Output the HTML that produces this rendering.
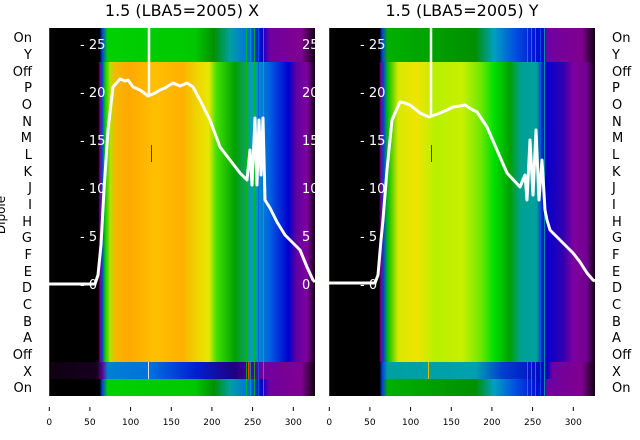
<!DOCTYPE html>
<html><head><meta charset="utf-8"><style>
body{margin:0;background:#fff;}
svg{display:block;font-family:"DejaVu Sans","Liberation Sans",sans-serif;}
</style></head><body>
<svg width="640" height="440" viewBox="0 0 640 440" xmlns="http://www.w3.org/2000/svg">
<defs>
<linearGradient id="Lmain" gradientUnits="userSpaceOnUse" x1="49" x2="315" y1="0" y2="0">
<stop offset="0" stop-color="#000"/><stop offset="0.185" stop-color="#000"/>
<stop offset="0.192" stop-color="#7a0090"/><stop offset="0.2" stop-color="#0040e0"/>
<stop offset="0.21" stop-color="#00c800"/><stop offset="0.23" stop-color="#b8e000"/>
<stop offset="0.25" stop-color="#f5b800"/><stop offset="0.3" stop-color="#ffa800"/>
<stop offset="0.4" stop-color="#ffc000"/><stop offset="0.5" stop-color="#ffb000"/>
<stop offset="0.55" stop-color="#f0d000"/><stop offset="0.6" stop-color="#e8e800"/>
<stop offset="0.63" stop-color="#40e000"/><stop offset="0.7" stop-color="#00a000"/>
<stop offset="0.74" stop-color="#10a060"/><stop offset="0.77" stop-color="#00a0c0"/>
<stop offset="0.83" stop-color="#0060e0"/><stop offset="0.9" stop-color="#0000d0"/>
<stop offset="0.93" stop-color="#6000a0"/><stop offset="0.97" stop-color="#8000a0"/>
<stop offset="1" stop-color="#100010"/>
</linearGradient>
<linearGradient id="Ltop" gradientUnits="userSpaceOnUse" x1="49" x2="315" y1="0" y2="0">
<stop offset="0" stop-color="#000"/><stop offset="0.19" stop-color="#000"/>
<stop offset="0.2" stop-color="#0040e0"/><stop offset="0.22" stop-color="#00d000"/>
<stop offset="0.55" stop-color="#00c800"/><stop offset="0.62" stop-color="#009000"/>
<stop offset="0.68" stop-color="#00a0a0"/><stop offset="0.75" stop-color="#0070e0"/>
<stop offset="0.8" stop-color="#0000d0"/><stop offset="0.83" stop-color="#7000a0"/>
<stop offset="0.95" stop-color="#800090"/><stop offset="1" stop-color="#100010"/>
</linearGradient>
<linearGradient id="LX" gradientUnits="userSpaceOnUse" x1="49" x2="315" y1="0" y2="0">
<stop offset="0" stop-color="#100010"/><stop offset="0.18" stop-color="#150020"/>
<stop offset="0.2" stop-color="#600090"/><stop offset="0.22" stop-color="#0080d0"/>
<stop offset="0.38" stop-color="#0070e0"/><stop offset="0.55" stop-color="#0020d0"/>
<stop offset="0.7" stop-color="#200080"/><stop offset="0.8" stop-color="#7000a0"/>
<stop offset="0.95" stop-color="#800090"/><stop offset="1" stop-color="#100010"/>
</linearGradient>
<linearGradient id="Rmain" gradientUnits="userSpaceOnUse" x1="329" x2="595" y1="0" y2="0">
<stop offset="0" stop-color="#000"/><stop offset="0.188" stop-color="#000"/>
<stop offset="0.195" stop-color="#7a0090"/><stop offset="0.205" stop-color="#0040e0"/>
<stop offset="0.22" stop-color="#00c000"/><stop offset="0.26" stop-color="#d8e800"/>
<stop offset="0.33" stop-color="#f0e400"/><stop offset="0.4" stop-color="#b8f000"/>
<stop offset="0.5" stop-color="#c8f000"/><stop offset="0.57" stop-color="#70e800"/>
<stop offset="0.62" stop-color="#00e000"/><stop offset="0.68" stop-color="#00a000"/>
<stop offset="0.72" stop-color="#00a090"/><stop offset="0.78" stop-color="#00a0a0"/>
<stop offset="0.81" stop-color="#0000d0"/><stop offset="0.88" stop-color="#3000b0"/>
<stop offset="0.92" stop-color="#8000a0"/><stop offset="0.97" stop-color="#700090"/>
<stop offset="1" stop-color="#100010"/>
</linearGradient>
<linearGradient id="Rtop" gradientUnits="userSpaceOnUse" x1="329" x2="595" y1="0" y2="0">
<stop offset="0" stop-color="#000"/><stop offset="0.19" stop-color="#000"/>
<stop offset="0.2" stop-color="#0040e0"/><stop offset="0.22" stop-color="#00b000"/>
<stop offset="0.55" stop-color="#009000"/><stop offset="0.62" stop-color="#00a0c0"/>
<stop offset="0.7" stop-color="#0050e0"/><stop offset="0.8" stop-color="#0000d0"/>
<stop offset="0.82" stop-color="#7000a0"/><stop offset="0.95" stop-color="#800090"/>
<stop offset="1" stop-color="#100010"/>
</linearGradient>
<linearGradient id="RX" gradientUnits="userSpaceOnUse" x1="329" x2="595" y1="0" y2="0">
<stop offset="0" stop-color="#000"/><stop offset="0.19" stop-color="#000"/>
<stop offset="0.2" stop-color="#0040e0"/><stop offset="0.22" stop-color="#00a0a0"/>
<stop offset="0.55" stop-color="#00a0b0"/><stop offset="0.65" stop-color="#0040d0"/>
<stop offset="0.82" stop-color="#0000c0"/><stop offset="0.84" stop-color="#7000a0"/>
<stop offset="0.95" stop-color="#800090"/><stop offset="1" stop-color="#100010"/>
</linearGradient>
</defs>

<text x="182" y="16" font-size="16" text-anchor="middle" fill="#000">1.5 (LBA5=2005) X</text>
<text x="462" y="16" font-size="16" text-anchor="middle" fill="#000">1.5 (LBA5=2005) Y</text>

<!-- left panel -->
<rect x="49" y="28" width="266" height="34" fill="url(#Ltop)"/>
<rect x="49" y="62" width="266" height="300" fill="url(#Lmain)"/>
<rect x="49" y="362" width="266" height="17" fill="url(#LX)"/>
<rect x="49" y="379" width="266" height="17" fill="url(#Ltop)"/>
<g opacity="0.8">
<rect x="246" y="28" width="1" height="368" fill="#00c000"/>
<rect x="250" y="28" width="1" height="368" fill="#00a0c0"/>
<rect x="254" y="28" width="1" height="368" fill="#00c000"/>
<rect x="258" y="28" width="1" height="368" fill="#0060e0"/>
<rect x="263" y="28" width="1" height="368" fill="#00b0a0"/>
</g>
<rect x="148" y="362" width="1" height="17" fill="#ddd"/>
<rect x="248" y="362" width="1.5" height="17" fill="#ff4000"/>
<rect x="151" y="145" width="1" height="17" fill="#d00000"/>
<rect x="49" y="28" width="1" height="368" fill="#800090"/>

<!-- right panel -->
<rect x="329" y="28" width="266" height="34" fill="url(#Rtop)"/>
<rect x="329" y="62" width="266" height="300" fill="url(#Rmain)"/>
<rect x="329" y="362" width="266" height="17" fill="url(#RX)"/>
<rect x="329" y="379" width="266" height="17" fill="url(#Rtop)"/>
<g opacity="0.8">
<rect x="527" y="28" width="1" height="368" fill="#00c000"/>
<rect x="531" y="28" width="1" height="368" fill="#00a0c0"/>
<rect x="535" y="28" width="1" height="368" fill="#00c000"/>
<rect x="540" y="28" width="1" height="368" fill="#0060e0"/>
<rect x="544" y="28" width="1" height="368" fill="#00b0a0"/>
</g>
<rect x="428" y="362" width="1" height="17" fill="#ddc000"/>
<rect x="431" y="145" width="1" height="17" fill="#d00000"/>
<rect x="329" y="28" width="1" height="368" fill="#800090"/>

<!-- white curves -->
<polyline fill="none" stroke="#fff" stroke-width="3" stroke-linejoin="round" points="49,284 95,284 98,275 101,245 104,190 108,130 113,87 120,79 125,81 128,80 133,87 140,90 148,96 155,93 160,90 165,88 173,83 180,86 187,83 193,87 200,100 210,120 220,147 230,160 240,173 247,180 250,150 252,185 255,118 257,185 259,120 261,175 263,118 265,200 270,208 277,222 285,235 290,240 300,250 307,267 313,280 315,282"/>
<line x1="149" y1="28" x2="149" y2="96" stroke="#fff" stroke-width="2.5"/>
<polyline fill="none" stroke="#fff" stroke-width="3" stroke-linejoin="round" points="329,283 375,283 378,275 381,240 383,220 387,170 392,120 400,102 405,103 410,105 420,113 429,117 440,113 447,110 453,107 460,106 465,105 471,109 477,112 487,127 497,150 507,173 520,187 525,175 527,200 530,140 533,195 536,130 539,200 542,160 545,210 547,220 550,230 563,243 573,253 580,262 587,273 593,280 595,281"/>
<line x1="431" y1="28" x2="431" y2="117" stroke="#fff" stroke-width="2.5"/>

<g fill="#fff" font-size="13">
<text x="80" y="49">- 25</text><text x="80" y="97">- 20</text><text x="80" y="145">- 15</text>
<text x="80" y="193">- 10</text><text x="80" y="241">- 5</text><text x="80" y="289">- 0</text>
<text x="360" y="49">- 25</text><text x="360" y="97">- 20</text><text x="360" y="145">- 15</text>
<text x="360" y="193">- 10</text><text x="360" y="241">- 5</text><text x="360" y="289">- 0</text>
<text x="302" y="49">25</text><text x="302" y="97">20</text><text x="302" y="145">15</text>
<text x="302" y="193">10</text><text x="302" y="241">5</text><text x="302" y="289">0</text>
</g>

<g font-size="13" fill="#000">
<g text-anchor="end">
<text x="32" y="42">On</text><text x="32" y="59">Y</text><text x="32" y="76">Off</text>
<text x="32" y="92">P</text><text x="32" y="109">O</text><text x="32" y="126">N</text>
<text x="32" y="142">M</text><text x="32" y="159">L</text><text x="32" y="176">K</text>
<text x="32" y="192">J</text><text x="32" y="209">I</text><text x="32" y="226">H</text>
<text x="32" y="242">G</text><text x="32" y="259">F</text><text x="32" y="276">E</text>
<text x="32" y="292">D</text><text x="32" y="309">C</text><text x="32" y="326">B</text>
<text x="32" y="342">A</text><text x="32" y="359">Off</text><text x="32" y="376">X</text>
<text x="32" y="392">On</text>
</g>
<g text-anchor="start">
<text x="612" y="42">On</text><text x="612" y="59">Y</text><text x="612" y="76">Off</text>
<text x="612" y="92">P</text><text x="612" y="109">O</text><text x="612" y="126">N</text>
<text x="612" y="142">M</text><text x="612" y="159">L</text><text x="612" y="176">K</text>
<text x="612" y="192">J</text><text x="612" y="209">I</text><text x="612" y="226">H</text>
<text x="612" y="242">G</text><text x="612" y="259">F</text><text x="612" y="276">E</text>
<text x="612" y="292">D</text><text x="612" y="309">C</text><text x="612" y="326">B</text>
<text x="612" y="342">A</text><text x="612" y="359">Off</text><text x="612" y="376">X</text>
<text x="612" y="392">On</text>
</g>
<text transform="translate(5,215) rotate(-90)" text-anchor="middle" font-size="12">Dipole</text>
</g>

<g stroke="#000" stroke-width="1">
<line x1="49.3" y1="407" x2="49.3" y2="411"/><line x1="89.9" y1="407" x2="89.9" y2="411"/>
<line x1="130.6" y1="407" x2="130.6" y2="411"/><line x1="171.3" y1="407" x2="171.3" y2="411"/>
<line x1="211.9" y1="407" x2="211.9" y2="411"/><line x1="252.6" y1="407" x2="252.6" y2="411"/>
<line x1="293.3" y1="407" x2="293.3" y2="411"/>
<line x1="329.3" y1="407" x2="329.3" y2="411"/><line x1="369.9" y1="407" x2="369.9" y2="411"/>
<line x1="410.6" y1="407" x2="410.6" y2="411"/><line x1="451.3" y1="407" x2="451.3" y2="411"/>
<line x1="491.9" y1="407" x2="491.9" y2="411"/><line x1="532.6" y1="407" x2="532.6" y2="411"/>
<line x1="573.3" y1="407" x2="573.3" y2="411"/>
</g>
<g font-size="9" fill="#000" text-anchor="middle">
<text x="49.3" y="425">0</text><text x="89.9" y="425">50</text><text x="130.6" y="425">100</text>
<text x="171.3" y="425">150</text><text x="211.9" y="425">200</text><text x="252.6" y="425">250</text>
<text x="293.3" y="425">300</text>
<text x="329.3" y="425">0</text><text x="369.9" y="425">50</text><text x="410.6" y="425">100</text>
<text x="451.3" y="425">150</text><text x="491.9" y="425">200</text><text x="532.6" y="425">250</text>
<text x="573.3" y="425">300</text>
</g>
</svg>
</body></html>
